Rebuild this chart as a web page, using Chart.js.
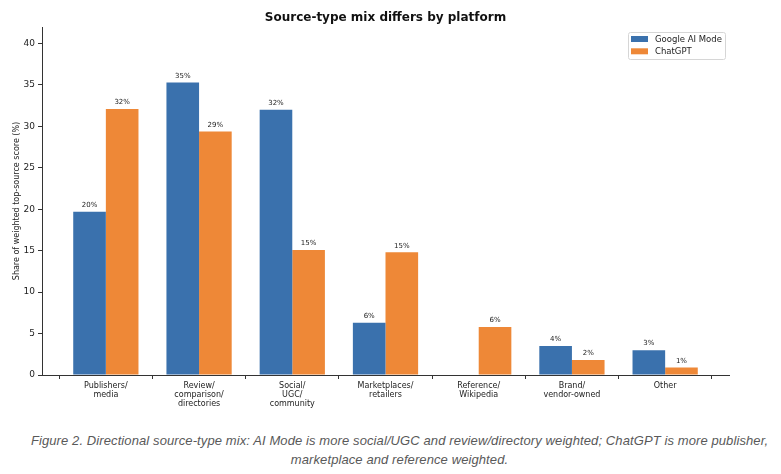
<!DOCTYPE html>
<html>
<head>
<meta charset="utf-8">
<script src="https://cdn.jsdelivr.net/npm/chart.js@4"></script>
<style>
  html, body { margin: 0; padding: 0; background: #fff; }
  #wrap { position: relative; width: 781px; height: 474px; }
  #box { position: absolute; left: 0; top: 0; width: 781px; height: 420px; }
  #caption {
    position: absolute; left: 9px; top: 431px; width: 781px;
    text-align: center; color: #595959;
    font-family: "Liberation Sans Narrow", "Liberation Sans", sans-serif;
    font-style: italic; font-size: 13px; letter-spacing: 0.1px; line-height: 19px;
  }
</style>
</head>
<body>
<div id="wrap">
  <div id="box"><canvas id="chart"></canvas></div>
  <div id="caption">Figure 2. Directional source-type mix: AI Mode is more social/UGC and review/directory weighted; ChatGPT is more publisher,<br>marketplace and reference weighted.</div>
</div>
<script>
// categories (multi-line tick labels)
const categories = [
  ["Publishers/", "media"],
  ["Review/", "comparison/", "directories"],
  ["Social/", "UGC/", "community"],
  ["Marketplaces/", "retailers"],
  ["Reference/", "Wikipedia"],
  ["Brand/", "vendor-owned"],
  ["Other"]
];
const seriesNames = ["Google AI Mode", "ChatGPT"];
const googleAiMode = [19.7, 35.3, 32.0, 6.3, 0, 3.5, 3.0];
const chatGpt = [32.1, 29.4, 15.1, 14.8, 5.8, 1.8, 0.9];
const yTicks = [0, 5, 10, 15, 20, 25, 30, 35, 40];

const BLUE = "#3a71ad";
const ORANGE = "#ee8837";
const FONT = "'DejaVu Sans', sans-serif";

function toPoints(values) {
  return values.map((v, i) => ({ x: i, y: v }));
}

// value labels above each bar
const barLabels = {
  id: "barLabels",
  afterDatasetsDraw(chart) {
    const ctx = chart.ctx;
    ctx.save();
    ctx.font = "7px " + FONT;
    ctx.fillStyle = "#222";
    ctx.textAlign = "center";
    ctx.textBaseline = "bottom";
    chart.data.datasets.forEach((ds, di) => {
      chart.getDatasetMeta(di).data.forEach((bar, i) => {
        const v = ds.data[i].y;
        if (!v) return;
        ctx.fillText(Math.round(v) + "%", bar.x, bar.y - 3);
      });
    });
    ctx.restore();
  }
};

// title and legend box like the original figure
const decorations = {
  id: "decorations",
  afterDraw(chart) {
    const ctx = chart.ctx;
    const area = chart.chartArea;
    ctx.save();
    ctx.font = "bold 12px " + FONT;
    ctx.fillStyle = "#111";
    ctx.textAlign = "center";
    ctx.textBaseline = "middle";
    ctx.fillText("Source-type mix differs by platform", (area.left + area.right) / 2, 18);

    // legend
    const lx = 628, ly = 32, lw = 97, lh = 27;
    ctx.fillStyle = "rgba(255,255,255,0.85)";
    ctx.strokeStyle = "#d6d6d6";
    ctx.lineWidth = 1;
    ctx.beginPath();
    ctx.roundRect(lx + 0.5, ly + 0.5, lw, lh, 2);
    ctx.fill();
    ctx.stroke();
    ctx.font = "8.5px " + FONT;
    ctx.textAlign = "left";
    chart.data.datasets.forEach((ds, i) => {
      const cy = ly + 7 + i * 12.3;
      ctx.fillStyle = ds.backgroundColor;
      ctx.fillRect(lx + 3, cy - 3, 17, 6);
      ctx.fillStyle = "#222";
      ctx.fillText(ds.label, lx + 27, cy + 0.5);
    });
    ctx.restore();
  }
};

new Chart(document.getElementById("chart"), {
  type: "bar",
  data: {
    datasets: [
      { label: seriesNames[0], data: toPoints(googleAiMode), backgroundColor: BLUE },
      { label: seriesNames[1], data: toPoints(chatGpt), backgroundColor: ORANGE }
    ]
  },
  options: {
    responsive: true,
    maintainAspectRatio: false,
    animation: false,
    categoryPercentage: 0.7,
    barPercentage: 1.0,
    layout: { padding: { left: 0, right: 52, top: 27, bottom: 0 } },
    plugins: {
      legend: { display: false },
      title: { display: false },
      tooltip: { enabled: false }
    },
    scales: {
      x: {
        type: "linear",
        min: -0.685,
        max: categories.length - 1 + 0.685,
        offset: false,
        afterBuildTicks(scale) {
          scale.ticks = categories.map((c, i) => ({ value: i }));
        },
        afterFit(scale) { scale.height = 45; },
        grid: { drawOnChartArea: false, color: "#333", tickLength: 4, tickWidth: 1 },
        border: { display: true, color: "#333", width: 1 },
        ticks: {
          autoSkip: false,
          maxRotation: 0,
          padding: 2,
          color: "#222",
          font: { family: FONT, size: 8, lineHeight: 1.15 },
          callback: (v) => categories[v]
        }
      },
      y: {
        min: 0,
        max: 42,
        afterBuildTicks(scale) {
          scale.ticks = yTicks.map(v => ({ value: v }));
        },
        afterFit(scale) { scale.width = 42; },
        grid: { drawOnChartArea: false, color: "#333", tickLength: 4, tickWidth: 1 },
        border: { display: true, color: "#333", width: 1 },
        ticks: {
          padding: 3,
          color: "#222",
          font: { family: FONT, size: 9 }
        },
        title: {
          display: true,
          text: "Share of weighted top-source score (%)",
          color: "#222",
          font: { family: FONT, size: 8 },
          padding: { top: 12, bottom: 0 }
        }
      }
    }
  },
  plugins: [barLabels, decorations]
});
</script>
</body>
</html>
